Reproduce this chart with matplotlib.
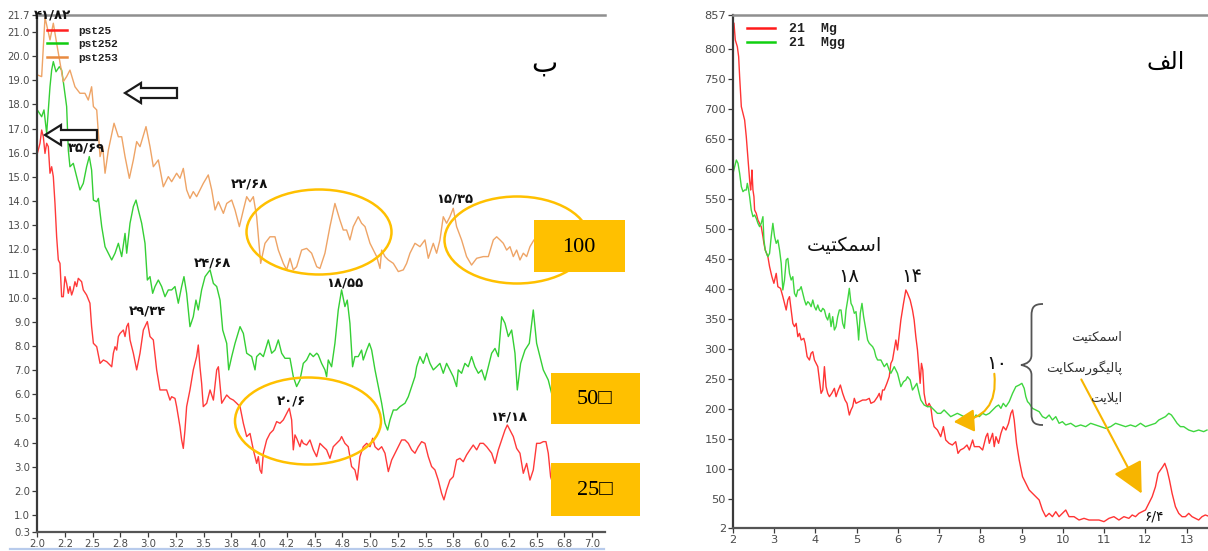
import matplotlib
matplotlib.use("Agg")
import matplotlib.pyplot as plt
from matplotlib.patches import Ellipse, Rectangle, FancyArrow, FancyArrowPatch, PathPatch
from matplotlib.path import Path
from matplotlib.lines import Line2D

# ---------------------------------------------------------------------------
# Panel "ب": oriented clay fractions, 2-theta (deg) vs intensity
# ---------------------------------------------------------------------------
pst25 = [
    (2.003, 15.97), (2.027, 16.39), (2.042, 16.94), (2.057, 16.66), (2.072, 15.97), (2.087, 16.39),
    (2.102, 16.25), (2.117, 15.15), (2.132, 15.42), (2.147, 15.01), (2.162, 13.90), (2.177, 12.52),
    (2.192, 11.56), (2.207, 11.42), (2.222, 10.04), (2.237, 10.04), (2.252, 10.87), (2.267, 10.59),
    (2.282, 10.18), (2.297, 10.46), (2.312, 10.11), (2.327, 10.32), (2.342, 10.66), (2.357, 10.46),
    (2.372, 10.80), (2.387, 10.73), (2.402, 10.66), (2.417, 10.32), (2.447, 10.11), (2.477, 9.77),
    (2.492, 8.80), (2.508, 8.11), (2.538, 7.97), (2.568, 7.28), (2.598, 7.42), (2.628, 7.35),
    (2.658, 7.21), (2.673, 7.14), (2.688, 7.70), (2.703, 7.97), (2.718, 7.83), (2.733, 8.39),
    (2.748, 8.52), (2.763, 8.59), (2.778, 8.66), (2.793, 8.39), (2.808, 8.80), (2.823, 8.94),
    (2.838, 8.25), (2.853, 7.97), (2.868, 7.70), (2.898, 7.01), (2.928, 7.70), (2.958, 8.66),
    (2.994, 9.01), (3.018, 8.39), (3.048, 8.25), (3.078, 7.01), (3.108, 6.18), (3.138, 6.18),
    (3.168, 6.18), (3.198, 5.76), (3.213, 5.90), (3.243, 5.83), (3.258, 5.49), (3.288, 4.66),
    (3.303, 4.11), (3.318, 3.76), (3.333, 4.52), (3.348, 5.49), (3.378, 6.18), (3.408, 7.01),
    (3.438, 7.56), (3.453, 8.04), (3.468, 7.14), (3.483, 6.46), (3.498, 5.49), (3.529, 5.63),
    (3.559, 6.18), (3.589, 5.76), (3.619, 7.01), (3.634, 7.14), (3.664, 5.63), (3.709, 5.97),
    (3.739, 5.83), (3.769, 5.76), (3.799, 5.63), (3.829, 5.49), (3.859, 4.80), (3.889, 4.25),
    (3.919, 4.38), (3.949, 3.70), (3.979, 3.14), (3.994, 3.42), (4.009, 2.87), (4.024, 2.73),
    (4.039, 3.56), (4.069, 4.11), (4.099, 4.38), (4.129, 4.52), (4.159, 4.87), (4.189, 4.80),
    (4.219, 4.94), (4.249, 5.21), (4.273, 5.42), (4.294, 4.94), (4.309, 3.70), (4.324, 4.32),
    (4.339, 4.18), (4.369, 3.83), (4.384, 4.11), (4.399, 3.97), (4.429, 3.90), (4.459, 4.11),
    (4.489, 3.70), (4.519, 3.42), (4.549, 3.97), (4.579, 3.83), (4.609, 3.70), (4.639, 3.35),
    (4.669, 3.83), (4.699, 3.97), (4.729, 4.11), (4.744, 4.25), (4.774, 3.97), (4.804, 3.83),
    (4.834, 3.01), (4.864, 2.87), (4.885, 2.45), (4.909, 3.42), (4.939, 3.83), (4.970, 3.97),
    (5.000, 3.83), (5.024, 4.18), (5.045, 3.83), (5.075, 3.70), (5.105, 3.83), (5.135, 3.56),
    (5.165, 2.80), (5.195, 3.28), (5.225, 3.56), (5.255, 3.83), (5.285, 4.11), (5.315, 4.11),
    (5.345, 3.97), (5.375, 3.70), (5.405, 3.56), (5.435, 3.83), (5.465, 4.04), (5.495, 3.97),
    (5.525, 3.42), (5.555, 3.01), (5.585, 2.87), (5.615, 2.45), (5.645, 1.90), (5.666, 1.63),
    (5.690, 2.04), (5.720, 2.45), (5.750, 2.59), (5.780, 3.28), (5.810, 3.35), (5.840, 3.21),
    (5.870, 3.49), (5.900, 3.70), (5.930, 3.90), (5.961, 3.70), (5.991, 3.97), (6.021, 3.97),
    (6.051, 3.83), (6.096, 3.56), (6.126, 3.14), (6.156, 3.70), (6.186, 4.11), (6.216, 4.52),
    (6.237, 4.73), (6.261, 4.52), (6.291, 4.25), (6.321, 3.76), (6.351, 3.56), (6.381, 2.73),
    (6.411, 3.14), (6.441, 2.45), (6.471, 2.87), (6.501, 3.97), (6.531, 3.97), (6.561, 4.04),
    (6.585, 4.04), (6.606, 3.56), (6.627, 2.59), (6.640, 2.40),
]

pst252 = [
    (2.003, 17.77), (2.042, 17.49), (2.063, 17.77), (2.087, 16.80), (2.117, 18.73), (2.132, 19.42),
    (2.147, 19.77), (2.171, 19.35), (2.201, 19.56), (2.222, 19.42), (2.237, 18.94), (2.267, 17.91),
    (2.282, 16.11), (2.297, 15.42), (2.327, 15.56), (2.357, 15.01), (2.387, 14.46), (2.417, 14.73),
    (2.447, 15.42), (2.471, 15.84), (2.492, 15.28), (2.508, 14.04), (2.538, 13.97), (2.553, 14.11),
    (2.583, 12.94), (2.613, 12.11), (2.643, 11.84), (2.673, 11.56), (2.703, 11.84), (2.733, 12.25),
    (2.763, 11.70), (2.793, 12.66), (2.808, 11.84), (2.838, 13.08), (2.868, 13.77), (2.892, 14.04),
    (2.913, 13.63), (2.943, 13.08), (2.973, 12.25), (2.994, 10.73), (3.018, 10.87), (3.042, 10.18),
    (3.063, 10.46), (3.093, 10.73), (3.123, 10.46), (3.153, 10.04), (3.183, 10.32), (3.213, 10.32),
    (3.243, 10.46), (3.273, 9.77), (3.303, 10.46), (3.324, 10.87), (3.348, 10.18), (3.378, 8.80),
    (3.408, 9.21), (3.432, 9.90), (3.453, 9.49), (3.483, 10.32), (3.514, 10.87), (3.559, 11.15),
    (3.589, 10.59), (3.619, 10.46), (3.649, 9.90), (3.673, 8.66), (3.709, 8.11), (3.727, 7.01),
    (3.754, 7.56), (3.784, 8.11), (3.829, 8.80), (3.859, 8.52), (3.889, 7.70), (3.934, 7.56),
    (3.964, 7.01), (3.979, 7.56), (4.009, 7.70), (4.039, 7.56), (4.084, 8.25), (4.114, 7.70),
    (4.144, 7.83), (4.174, 8.25), (4.204, 7.70), (4.234, 7.49), (4.279, 7.49), (4.309, 6.73),
    (4.339, 6.32), (4.369, 6.59), (4.399, 7.28), (4.429, 7.42), (4.459, 7.70), (4.489, 7.56),
    (4.520, 7.70), (4.534, 7.63), (4.564, 7.28), (4.594, 7.01), (4.609, 6.73), (4.624, 7.42),
    (4.654, 7.14), (4.684, 8.11), (4.714, 9.49), (4.744, 10.32), (4.774, 9.63), (4.795, 9.90),
    (4.819, 8.94), (4.843, 7.14), (4.864, 7.56), (4.894, 7.56), (4.924, 7.83), (4.939, 7.42),
    (4.970, 7.83), (4.994, 8.11), (5.015, 7.83), (5.045, 7.01), (5.075, 6.32), (5.105, 5.63),
    (5.135, 4.80), (5.159, 4.52), (5.180, 4.94), (5.210, 5.35), (5.240, 5.35), (5.270, 5.49),
    (5.315, 5.63), (5.345, 5.90), (5.375, 6.32), (5.405, 6.73), (5.420, 7.14), (5.450, 7.56),
    (5.480, 7.28), (5.510, 7.70), (5.540, 7.28), (5.570, 7.01), (5.600, 7.14), (5.630, 7.28),
    (5.660, 6.87), (5.690, 7.28), (5.720, 7.01), (5.750, 6.73), (5.780, 6.32), (5.795, 7.01),
    (5.825, 6.87), (5.855, 7.28), (5.885, 7.14), (5.915, 7.56), (5.945, 7.14), (5.976, 6.87),
    (6.006, 7.01), (6.036, 6.59), (6.066, 7.14), (6.096, 7.70), (6.126, 7.90), (6.156, 7.56),
    (6.186, 9.21), (6.216, 8.94), (6.246, 8.39), (6.276, 8.66), (6.306, 7.70), (6.327, 6.18),
    (6.357, 7.28), (6.396, 7.83), (6.435, 8.11), (6.471, 9.49), (6.501, 8.11), (6.531, 7.56),
    (6.561, 7.01), (6.606, 6.59), (6.636, 6.04),
]

pst253 = [
    (2.003, 19.22), (2.042, 19.15), (2.072, 21.60), (2.117, 20.67), (2.147, 21.36), (2.177, 20.53),
    (2.237, 18.94), (2.267, 19.15), (2.297, 19.42), (2.342, 18.73), (2.387, 18.46), (2.432, 18.46),
    (2.462, 18.18), (2.492, 18.73), (2.508, 17.91), (2.538, 17.77), (2.568, 15.84), (2.592, 16.25),
    (2.613, 15.15), (2.643, 16.11), (2.694, 17.22), (2.733, 16.66), (2.763, 16.66), (2.793, 15.84),
    (2.832, 14.94), (2.868, 15.70), (2.898, 16.46), (2.928, 16.25), (2.982, 17.08), (3.018, 16.25),
    (3.048, 15.42), (3.093, 15.70), (3.138, 14.59), (3.183, 15.01), (3.213, 14.80), (3.258, 15.15),
    (3.288, 14.94), (3.318, 15.35), (3.348, 14.46), (3.378, 14.11), (3.408, 14.39), (3.438, 14.18),
    (3.468, 14.46), (3.498, 14.73), (3.543, 15.08), (3.574, 14.46), (3.604, 13.63), (3.634, 13.97),
    (3.679, 13.49), (3.709, 13.90), (3.754, 14.04), (3.784, 13.63), (3.823, 12.94), (3.859, 13.63),
    (3.889, 14.18), (3.919, 13.97), (3.949, 14.18), (3.979, 13.35), (4.015, 11.42), (4.054, 12.25),
    (4.099, 12.52), (4.144, 12.52), (4.174, 11.97), (4.219, 11.42), (4.249, 11.15), (4.279, 11.63),
    (4.309, 11.15), (4.339, 11.28), (4.384, 11.97), (4.429, 12.04), (4.474, 11.84), (4.520, 11.28),
    (4.549, 11.21), (4.594, 11.84), (4.639, 12.94), (4.684, 13.90), (4.729, 13.21), (4.759, 12.80),
    (4.789, 12.80), (4.819, 12.39), (4.849, 12.94), (4.894, 13.35), (4.924, 13.08), (4.955, 12.94),
    (5.000, 12.25), (5.030, 11.97), (5.060, 11.70), (5.090, 11.21), (5.105, 11.97), (5.135, 11.70),
    (5.165, 11.56), (5.210, 11.42), (5.255, 11.08), (5.300, 11.15), (5.330, 11.42), (5.360, 11.84),
    (5.405, 12.25), (5.450, 12.11), (5.495, 12.39), (5.525, 11.63), (5.570, 12.25), (5.600, 11.84),
    (5.630, 12.39), (5.660, 13.35), (5.690, 13.08), (5.720, 13.35), (5.750, 13.70), (5.780, 12.94),
    (5.825, 12.39), (5.870, 11.70), (5.915, 11.35), (5.961, 11.63), (6.021, 11.70), (6.066, 11.70),
    (6.111, 12.39), (6.141, 12.52), (6.171, 12.39), (6.201, 12.25), (6.231, 11.97), (6.261, 12.11),
    (6.291, 11.70), (6.321, 11.97), (6.351, 11.56), (6.381, 11.84), (6.411, 11.70), (6.441, 12.11),
    (6.477, 12.39), (6.550, 12.60), (6.650, 12.30),
]

b_names = ["pst25", "pst252", "pst253"]
b_colors = ["#ff3a3a", "#35cf35", "#eea466"]
b_legend_colors = ["#ff2020", "#10cc10", "#e88a40"]

b_xticks = [2.0, 2.25, 2.5, 2.75, 3.0, 3.25, 3.5, 3.75, 4.0, 4.25, 4.5, 4.75, 5.0,
            5.25, 5.5, 5.75, 6.0, 6.25, 6.5, 6.75, 7.0]
b_xlabels = ["2.0", "2.2", "2.5", "2.8", "3.0", "3.2", "3.5", "3.8", "4.0", "4.2", "4.5",
             "4.8", "5.0", "5.2", "5.5", "5.8", "6.0", "6.2", "6.5", "6.8", "7.0"]
b_yticks = [0.3, 1.0, 2.0, 3.0, 4.0, 5.0, 6.0, 7.0, 8.0, 9.0, 10.0, 11.0, 12.0, 13.0,
            14.0, 15.0, 16.0, 17.0, 18.0, 19.0, 20.0, 21.0, 21.7]
b_ylabels = ["0.3", "1.0", "2.0", "3.0", "4.0", "5.0", "6.0", "7.0", "8.0", "9.0", "10.0",
             "11.0", "12.0", "13.0", "14.0", "15.0", "16.0", "17.0", "18.0", "19.0", "20.0",
             "21.0", "21.7"]

# ---------------------------------------------------------------------------
# Panel "الف": Mg-saturated and glycolated sample
# ---------------------------------------------------------------------------
mg21 = [
    (2.024, 843.1), (2.056, 815.3), (2.105, 804.2), (2.137, 787.6), (2.161, 754.2), (2.185, 726.4),
    (2.202, 704.2), (2.242, 693.1), (2.282, 682.0), (2.322, 654.2), (2.347, 632.0), (2.379, 604.2),
    (2.403, 582.0), (2.427, 565.3), (2.443, 576.4), (2.459, 598.7), (2.484, 565.3), (2.508, 554.2),
    (2.524, 532.0), (2.564, 526.4), (2.605, 515.3), (2.645, 509.8), (2.685, 504.2), (2.726, 487.6),
    (2.750, 476.4), (2.782, 465.3), (2.846, 454.2), (2.887, 437.6), (2.943, 420.9), (2.992, 409.8),
    (3.048, 426.4), (3.088, 404.2), (3.153, 401.4), (3.209, 387.6), (3.249, 376.4), (3.290, 365.3),
    (3.330, 382.0), (3.370, 387.6), (3.411, 365.3), (3.451, 343.1), (3.491, 337.6), (3.532, 343.1),
    (3.572, 320.9), (3.612, 326.4), (3.653, 315.3), (3.717, 318.1), (3.749, 309.8), (3.798, 287.6),
    (3.854, 282.0), (3.894, 293.1), (3.935, 295.9), (3.975, 282.0), (4.015, 276.4), (4.056, 270.9),
    (4.096, 248.7), (4.136, 226.4), (4.177, 232.0), (4.217, 270.9), (4.257, 237.6), (4.297, 226.4),
    (4.338, 220.9), (4.394, 226.4), (4.459, 234.8), (4.499, 220.9), (4.539, 229.2), (4.604, 240.3),
    (4.660, 226.4), (4.717, 215.3), (4.765, 209.8), (4.821, 190.3), (4.862, 198.7), (4.902, 204.2),
    (4.942, 218.1), (4.983, 209.8), (5.063, 212.6), (5.144, 215.3), (5.225, 215.3), (5.305, 218.1),
    (5.345, 209.8), (5.426, 212.6), (5.507, 220.9), (5.547, 226.4), (5.587, 215.3), (5.628, 232.0),
    (5.668, 232.0), (5.732, 243.1), (5.789, 254.2), (5.829, 276.4), (5.869, 282.0), (5.910, 298.7),
    (5.950, 315.3), (5.990, 298.7), (6.031, 323.7), (6.071, 348.7), (6.135, 376.4), (6.192, 398.7),
    (6.232, 393.1), (6.297, 382.0), (6.353, 365.3), (6.393, 348.7), (6.434, 320.9), (6.474, 298.7),
    (6.514, 265.3), (6.539, 243.1), (6.571, 276.4), (6.603, 265.3), (6.635, 226.4), (6.676, 209.8),
    (6.716, 204.2), (6.756, 209.8), (6.796, 204.2), (6.837, 182.0), (6.877, 170.9), (6.958, 165.3),
    (7.038, 154.2), (7.103, 170.9), (7.159, 148.7), (7.240, 143.1), (7.320, 140.3), (7.401, 145.9),
    (7.457, 126.4), (7.514, 132.0), (7.595, 134.8), (7.675, 140.3), (7.732, 132.0), (7.812, 148.7),
    (7.853, 137.6), (7.974, 137.6), (8.054, 132.0), (8.135, 154.2), (8.175, 159.8), (8.216, 143.1),
    (8.296, 159.8), (8.336, 137.6), (8.377, 154.2), (8.441, 143.1), (8.498, 159.8), (8.554, 170.9),
    (8.619, 165.3), (8.683, 176.4), (8.739, 193.1), (8.780, 198.7), (8.820, 182.0), (8.877, 143.1),
    (8.941, 115.3), (9.022, 87.6), (9.102, 76.4), (9.183, 65.3), (9.263, 59.8), (9.344, 54.2),
    (9.425, 48.7), (9.505, 32.0), (9.586, 20.9), (9.667, 26.4), (9.747, 20.9), (9.828, 29.2),
    (9.908, 20.9), (9.989, 26.4), (10.070, 32.0), (10.150, 20.9), (10.271, 20.9), (10.392, 15.3),
    (10.513, 18.1), (10.634, 15.3), (10.755, 15.3), (10.876, 15.3), (10.997, 12.6), (11.118, 18.1),
    (11.238, 20.9), (11.359, 15.3), (11.480, 20.9), (11.601, 18.1), (11.682, 23.7), (11.762, 20.9),
    (11.843, 26.4), (11.924, 29.2), (12.004, 32.0), (12.085, 43.1), (12.166, 54.2), (12.246, 70.9),
    (12.311, 93.1), (12.367, 98.7), (12.423, 104.2), (12.472, 109.8), (12.528, 98.7), (12.585, 82.0),
    (12.649, 59.8), (12.730, 37.6), (12.810, 26.4), (12.891, 20.9), (12.972, 20.9), (13.052, 26.4),
    (13.133, 20.9), (13.213, 18.1), (13.294, 15.3), (13.375, 20.9), (13.455, 23.7), (13.520, 22.0),
]

mgg21 = [
    (2.000, 593.1), (2.040, 604.2), (2.081, 615.3), (2.121, 609.8), (2.161, 593.1), (2.202, 570.9),
    (2.242, 562.6), (2.282, 565.3), (2.322, 565.3), (2.347, 576.4), (2.379, 565.3), (2.403, 554.2),
    (2.443, 532.0), (2.484, 520.9), (2.524, 523.7), (2.564, 518.1), (2.605, 509.8), (2.645, 504.2),
    (2.685, 509.8), (2.726, 520.9), (2.750, 482.0), (2.782, 465.3), (2.846, 454.2), (2.887, 459.8),
    (2.927, 487.6), (2.967, 509.8), (3.008, 487.6), (3.048, 476.4), (3.088, 482.0), (3.129, 465.3),
    (3.169, 443.1), (3.209, 398.7), (3.249, 415.3), (3.290, 448.7), (3.330, 451.4), (3.370, 426.4),
    (3.411, 415.3), (3.451, 420.9), (3.491, 393.1), (3.532, 387.6), (3.572, 398.7), (3.612, 398.7),
    (3.653, 404.2), (3.693, 393.1), (3.733, 382.0), (3.773, 373.7), (3.814, 379.2), (3.854, 376.4),
    (3.894, 370.9), (3.935, 382.0), (3.975, 370.9), (4.015, 365.3), (4.056, 373.7), (4.096, 365.3),
    (4.136, 362.6), (4.177, 368.1), (4.217, 365.3), (4.257, 354.2), (4.297, 348.7), (4.338, 359.8),
    (4.378, 337.6), (4.418, 354.2), (4.459, 332.0), (4.499, 337.6), (4.539, 354.2), (4.580, 365.3),
    (4.620, 365.3), (4.660, 343.1), (4.701, 334.8), (4.741, 365.3), (4.781, 382.0), (4.821, 401.4),
    (4.862, 376.4), (4.902, 370.9), (4.942, 359.8), (4.983, 362.6), (5.023, 337.6), (5.047, 315.3),
    (5.087, 359.8), (5.128, 376.4), (5.168, 354.2), (5.224, 332.0), (5.265, 315.3), (5.305, 309.8),
    (5.386, 304.2), (5.426, 298.7), (5.466, 287.6), (5.507, 282.0), (5.587, 282.0), (5.668, 270.9),
    (5.732, 276.4), (5.789, 265.3), (5.829, 259.8), (5.910, 270.9), (5.990, 259.8), (6.031, 248.7),
    (6.071, 237.6), (6.135, 245.9), (6.192, 248.7), (6.232, 254.2), (6.297, 248.7), (6.353, 232.0),
    (6.409, 237.6), (6.458, 243.1), (6.514, 226.4), (6.555, 215.3), (6.635, 207.0), (6.716, 204.2),
    (6.796, 204.2), (6.877, 198.7), (6.958, 193.1), (7.038, 193.1), (7.119, 198.7), (7.200, 193.1),
    (7.280, 187.6), (7.361, 190.3), (7.441, 193.1), (7.522, 190.3), (7.603, 187.6), (7.683, 190.3),
    (7.732, 187.6), (7.812, 182.0), (7.893, 190.3), (7.974, 187.6), (8.054, 193.1), (8.135, 190.3),
    (8.216, 193.1), (8.296, 198.7), (8.377, 204.2), (8.441, 207.0), (8.498, 201.4), (8.554, 209.8),
    (8.619, 204.2), (8.699, 212.6), (8.780, 226.4), (8.860, 237.6), (8.941, 240.3), (9.006, 243.1),
    (9.062, 234.8), (9.102, 220.9), (9.143, 212.6), (9.183, 209.8), (9.263, 201.4), (9.344, 198.7),
    (9.425, 195.9), (9.505, 187.6), (9.586, 184.8), (9.667, 190.3), (9.747, 182.0), (9.828, 187.6),
    (9.908, 176.5), (9.989, 179.2), (10.070, 173.7), (10.191, 176.5), (10.311, 170.9), (10.432, 173.7),
    (10.553, 170.9), (10.674, 176.5), (10.795, 173.7), (10.916, 170.9), (11.037, 168.1), (11.158, 170.9),
    (11.279, 176.5), (11.400, 173.7), (11.521, 170.9), (11.641, 173.7), (11.762, 170.9), (11.883, 176.5),
    (12.004, 170.9), (12.125, 173.7), (12.246, 176.5), (12.327, 182.0), (12.407, 184.8), (12.488, 187.6),
    (12.569, 193.1), (12.633, 190.3), (12.690, 184.8), (12.770, 176.5), (12.851, 170.9), (12.931, 170.9),
    (13.052, 165.3), (13.173, 162.6), (13.294, 165.3), (13.415, 162.6), (13.496, 165.3),
]

a_names = ["21  Mg", "21  Mgg"]
a_colors = ["#ff3434", "#3fd63f"]
a_legend_colors = ["#ff1a1a", "#10d010"]

a_xticks = [2, 3, 4, 5, 6, 7, 8, 9, 10, 11, 12, 13]
a_yticks = [2, 50, 100, 150, 200, 250, 300, 350, 400, 450, 500, 550, 600, 650, 700, 750, 800, 857]

# Peak annotations (d-spacing, Å) written with Persian digits
b_peak_labels = ["۴۱/۸۲", "۳۵/۶۹", "۲۲/۶۸", "۲۴/۶۸", "۲۹/۳۴", "۲۰/۶", "۱۸/۵۵", "۱۵/۳۵", "۱۴/۱۸"]
a_peak_labels = ["۱۸", "۱۴", "۱۰", "۶/۴"]
box_labels = ["100", "50\u25a1", "25\u25a1"]

# matplotlib has no Arabic-script shaping, so Persian words are stored in
# contextual presentation forms, already in left-to-right visual order.
TITLE_A = "\uFED2\uFEDF\uFE8D"                                   # الف
TITLE_B = "\uFE8F"                                               # ب
SMECTITE = "\uFE96\uFBFF\uFE98\uFB91\uFEE4\uFEB3\uFE8D"           # اسمکتیت
PALYGORSKITE = ("\uFE96\uFBFE\uFE8E\uFB91\uFEB3\uFEAD\uFEEE\uFB95"
                "\uFBFF\uFEDF\uFE8E\uFB58")                      # پالیگورسکایت
ILLITE = "\uFE96\uFBFE\uFEFC\uFBFE\uFE8D"                         # ایلایت

W, H = 1208, 551
fig = plt.figure(figsize=(W / 100, H / 100), dpi=100)
fig.patch.set_facecolor("white")

TICK_COLOR = "#4a4a4a"


def style_axes(ax):
    ax.spines["right"].set_visible(False)
    ax.spines["left"].set_color("#3a3a3a")
    ax.spines["bottom"].set_color("#555555")
    ax.spines["top"].set_color("#8f8f8f")
    ax.spines["left"].set_linewidth(1.6)
    ax.spines["bottom"].set_linewidth(1.6)
    ax.spines["top"].set_linewidth(1.8)
    ax.tick_params(axis="both", direction="out", length=3.5, width=0.9,
                   colors="#3a3a3a", labelcolor=TICK_COLOR, labelsize=7.3, pad=1.5)
    ax.tick_params(top=False, right=False)


# ---- left panel ("ب") ----
axb = fig.add_axes([37 / W, 1 - 532 / H, (605 - 37) / W, (532 - 15) / H])
for name, series, col in zip(b_names, [pst25, pst252, pst253], b_colors):
    xs = [p[0] for p in series]
    ys = [p[1] for p in series]
    axb.plot(xs, ys, color=col, lw=1.0, label=name)
axb.set_xlim(2.0, 7.117)
axb.set_ylim(0.3, 21.7)
axb.set_xticks(b_xticks)
axb.set_xticklabels(b_xlabels)
axb.set_yticks(b_yticks)
axb.set_yticklabels(b_ylabels)
style_axes(axb)

b_handles = [Line2D([], [], color=c, lw=1.8) for c in b_legend_colors]
legb = axb.legend(b_handles, b_names, loc="upper left", bbox_to_anchor=(0.0176, 0.979),
                  frameon=False, borderpad=0, borderaxespad=0, handlelength=1.8,
                  handletextpad=1.0, labelspacing=0.31,
                  prop={"family": "Liberation Mono", "weight": "bold", "size": 8})
for t in legb.get_texts():
    t.set_color("#222222")

# ---- right panel ("الف") ----
axa = fig.add_axes([733 / W, 1 - 528 / H, (W - 733) / W, (528 - 15) / H])
for name, series, col in zip(a_names, [mg21, mgg21], a_colors):
    xs = [p[0] for p in series]
    ys = [p[1] for p in series]
    axa.plot(xs, ys, color=col, lw=1.0, label=name)
axa.set_xlim(2, 13.52)
axa.set_ylim(2, 857)
axa.set_xticks(a_xticks)
axa.set_yticks(a_yticks)
style_axes(axa)
axa.tick_params(labelsize=8.2)

a_handles = [Line2D([], [], color=c, lw=1.8) for c in a_legend_colors]
lega = axa.legend(a_handles, a_names, loc="upper left", bbox_to_anchor=(0.0295, 0.984),
                  frameon=False, borderpad=0, borderaxespad=0, handlelength=2.1,
                  handletextpad=1.1, labelspacing=0.12,
                  prop={"family": "Liberation Mono", "weight": "bold", "size": 9.5})
for t in lega.get_texts():
    t.set_color("#222222")

# ---- annotation layer in figure pixels (y downwards) ----
ov = fig.add_axes([0, 0, 1, 1], zorder=10)
ov.set_xlim(0, W)
ov.set_ylim(H, 0)
ov.axis("off")
ov.patch.set_alpha(0)

GOLD = "#ffc000"
persian = {"family": ["DejaVu Sans"]}

# faint blue rule below the left panel
ov.plot([10, 604], [548.5, 548.5], color="#b8cbec", lw=1.6)

# highlighted regions
for (cx, cy, w, h) in [(319, 232, 145, 85), (517, 240, 145, 87), (308, 421, 146, 87)]:
    ov.add_patch(Ellipse((cx, cy), w, h, fill=False, ec=GOLD, lw=1.8, zorder=2))

# fraction boxes
for (x0, y0, w, h), lab, tx in zip([(534, 220, 91, 52), (551, 373, 89, 51), (551, 463, 89, 53)],
                                   box_labels, [579, 595, 595]):
    ov.add_patch(Rectangle((x0, y0), w, h, fc=GOLD, ec="none", zorder=3))
    ov.text(tx, y0 + h / 2 + 1, lab, ha="center", va="center", fontsize=16,
            family=["Liberation Serif", "DejaVu Serif"], color="black", zorder=4)

# hollow block arrows
for (xt, yc) in [(177, 93), (97, 135)]:
    ov.add_patch(FancyArrow(xt, yc, -52, 0, width=10, head_width=20, head_length=16,
                            length_includes_head=True, fc="white", ec="#1a1a1a", lw=1.6,
                            zorder=4))

# peak labels, left panel
b_label_pos = [(52, 15), (86.5, 148), (249.5, 184), (212, 262.5), (147.5, 310.5),
               (291.5, 401), (344.5, 283.5), (454.5, 198.5), (508.5, 417.5)]
for lab, (px, py) in zip(b_peak_labels, b_label_pos):
    ov.text(px, py, lab, ha="center", va="center", fontsize=9.5, weight="bold",
            color="#111111", **persian)

ov.text(544, 64, TITLE_B, ha="center", va="center", fontsize=20, color="black", **persian)
ov.text(1166, 62, TITLE_A, ha="center", va="center", fontsize=17, color="black", **persian)

# right panel labels
ov.text(844, 246, SMECTITE, ha="center", va="center", fontsize=14, color="#111111", **persian)
a_label_pos = [(848.5, 277), (911.5, 277), (997, 363.5), (1154.5, 516.5)]
a_label_size = [14, 14, 14, 10]
for lab, (px, py), fs in zip(a_peak_labels, a_label_pos, a_label_size):
    ov.text(px, py, lab, ha="center", va="center", fontsize=fs, color="#111111", **persian)

for txt, py in [(SMECTITE, 337), (PALYGORSKITE, 368), (ILLITE, 398)]:
    ov.text(1122, py, txt, ha="right", va="center", fontsize=9.5, color="#333333", **persian)

# curly brace grouping the 10 Å minerals
brace = Path(
    [(1043, 304), (1034, 304), (1031.5, 307), (1031.5, 316),
     (1031.5, 355),
     (1031.5, 361), (1027, 364), (1021, 365),
     (1027, 366), (1031.5, 369), (1031.5, 375),
     (1031.5, 414),
     (1031.5, 422), (1034, 425), (1043, 425)],
    [Path.MOVETO, Path.CURVE4, Path.CURVE4, Path.CURVE4,
     Path.LINETO,
     Path.CURVE4, Path.CURVE4, Path.CURVE4,
     Path.CURVE4, Path.CURVE4, Path.CURVE4,
     Path.LINETO,
     Path.CURVE4, Path.CURVE4, Path.CURVE4])
ov.add_patch(PathPatch(brace, fill=False, ec="#555555", lw=1.3))

# gold pointer arrows
ov.add_patch(FancyArrowPatch((994, 371), (951, 422), connectionstyle="arc3,rad=-0.55",
                             arrowstyle="-|>,head_length=0.9,head_width=0.5",
                             mutation_scale=14, color="#f7b500", lw=1.5))
ov.add_patch(FancyArrowPatch((1080, 377), (1143, 496),
                             arrowstyle="-|>,head_length=1.2,head_width=0.6",
                             mutation_scale=16, color="#f7b500", lw=1.5))

fig.savefig("out.png", dpi=100, facecolor="white")
